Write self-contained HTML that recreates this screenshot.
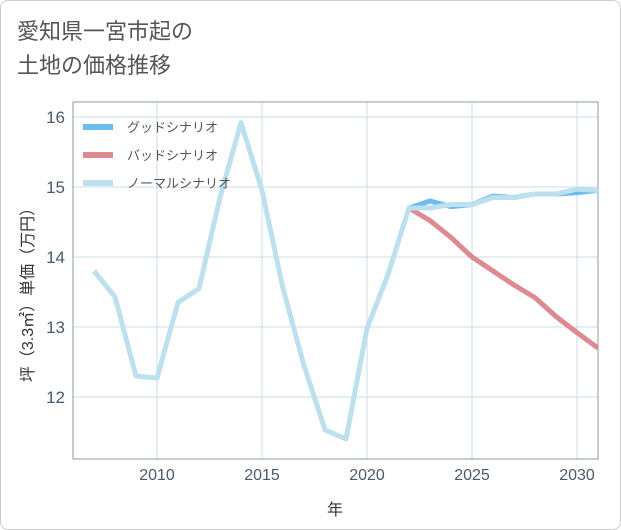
<!DOCTYPE html>
<html><head><meta charset="utf-8"><style>
body{margin:0;background:#fff;font-family:"Liberation Sans","Noto Sans CJK JP",sans-serif;}
#wrap{position:relative;width:619px;height:528px;border:1px solid #ccc;border-radius:8px;overflow:hidden;background:#fff}
#title{position:absolute;left:16px;top:14px;font-size:22px;color:#555;line-height:34px}
svg{position:absolute;left:0;top:0}
</style></head><body>
<div id="wrap">
<div id="title">愛知県一宮市起の<br>土地の価格推移</div>
<svg id="chart" width="621" height="530"></svg>
</div>
<script>
const years=[2007,2008,2009,2010,2011,2012,2013,2014,2015,2016,2017,2018,2019,2020,2021,2022,2023,2024,2025,2026,2027,2028,2029,2030,2031];
const normal=[13.8,13.43,12.3,12.27,13.35,13.55,14.85,15.92,14.95,13.55,12.45,11.53,11.4,12.98,13.75,14.7,14.7,14.75,14.75,14.85,14.85,14.9,14.9,14.97,14.95];
const futureYears=[2022,2023,2024,2025,2026,2027,2028,2029,2030,2031];
const good=[14.7,14.8,14.72,14.75,14.87,14.85,14.9,14.9,14.92,14.95];
const bad=[14.7,14.52,14.28,14.0,13.8,13.6,13.42,13.15,12.92,12.7];
const xTicks=[2010,2015,2020,2025,2030];
const yTicks=[12,13,14,15,16];
const NS='http://www.w3.org/2000/svg';
const svg=document.getElementById('chart');
const X0=72,X1=597,Y0=101,Y1=458;
const x=v=>156+(v-2010)*21;
const y=v=>186-(v-15)*70;
function el(t,a,p){const e=document.createElementNS(NS,t);for(const k in a)e.setAttribute(k,a[k]);(p||svg).appendChild(e);return e;}
xTicks.forEach(t=>{
 const g=el('line',{x1:x(t),x2:x(t),y1:Y0,y2:Y1,stroke:'#c9dce9'});
 
 
 const l=el('text',{x:x(t),y:479,'text-anchor':'middle','font-size':16,fill:'#4a5a6a'});l.textContent=t;
 
 
});
yTicks.forEach(t=>{
 const g=el('line',{x1:X0,x2:X1,y1:y(t),y2:y(t),stroke:'#c9dce9'});
 
 
 const l=el('text',{x:64,y:y(t)+6,'text-anchor':'end','font-size':17,fill:'#4a5a6a'});l.textContent=t;
 
 
});
const frame=el('rect',{x:X0,y:Y0,width:X1-X0,height:Y1-Y0,fill:'none',stroke:'#8a9aa8',"stroke-width":1});


const xt=el('text',{x:334,y:514,'text-anchor':'middle','font-size':16,fill:'#333'});xt.textContent='年';


const yt=el('text',{x:0,y:0,'text-anchor':'middle','font-size':16,fill:'#333',transform:'translate(32,290) rotate(-90)'});yt.textContent='坪（3.3㎡）単価（万円）';


const clip=el('clipPath',{id:'c'});el('rect',{x:X0,y:Y0,width:X1-X0,height:Y1-Y0},clip);
function line(xs,vs,color,name){
 const p=el('polyline',{points:xs.map((t,i)=>x(t)+','+y(vs[i])).join(' '),fill:'none',stroke:color,'stroke-width':5,'stroke-linejoin':'round','clip-path':'url(#c)'});
 
 
}
line(futureYears,bad,'#dd8a92','bad-scenario-line');
line(futureYears,good,'#6bbcf0','good-scenario-line');
line(years,normal,'#bde0ee','normal-scenario-line');
const leg=[['グッドシナリオ','#6bbcf0'],['バッドシナリオ','#dd8a92'],['ノーマルシナリオ','#bde0ee']];
leg.forEach((d,i)=>{
 const yy=126+i*28;
 const s=el('line',{x1:82,x2:112,y1:yy,y2:yy,stroke:d[1],'stroke-width':6});
 
 
 const t=el('text',{x:126,y:yy+5,'font-size':13,fill:'#555'});t.textContent=d[0];
 
 
});
</script>
</body></html>
